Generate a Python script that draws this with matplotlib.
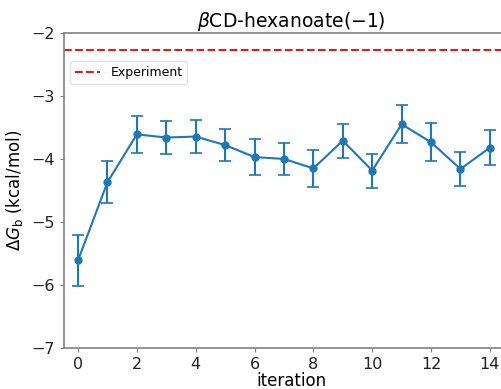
import matplotlib
matplotlib.use("Agg")
import matplotlib.pyplot as plt

iterations = list(range(15))
dg_mean = [-5.61, -4.37, -3.61, -3.66, -3.645, -3.78, -3.97, -4.00, -4.15,
           -3.71, -4.185, -3.45, -3.735, -4.16, -3.82]
dg_err = [0.40, 0.33, 0.29, 0.265, 0.265, 0.26, 0.29, 0.26, 0.29,
          0.27, 0.27, 0.30, 0.30, 0.265, 0.28]
dg_experiment = -2.27

fig = plt.figure(figsize=(5.02, 3.89), dpi=100)
ax = fig.add_axes([0.1275, 0.1054, 0.907, 0.810])

ax.errorbar(iterations, dg_mean, yerr=dg_err, fmt="o-", color="#1f77b4",
            ms=5, lw=1.5, capsize=4, elinewidth=1.5, capthick=1.2)
ax.axhline(dg_experiment, color="#e31a1c", ls="--", lw=1.5, label="Experiment")

ax.set_xlim(-0.476, 15.0)
ax.set_ylim(-7, -2)
ax.set_xticks(range(0, 15, 2))
ax.set_yticks([-7, -6, -5, -4, -3, -2])

for s in ax.spines.values():
    s.set_color("#808080")
    s.set_linewidth(1.2)
ax.tick_params(colors="#808080", labelcolor="#222222", labelsize=11.5, length=3)

ax.set_xlabel("iteration", fontsize=12, labelpad=0)
ax.set_ylabel(r"$\Delta G_\mathrm{b}$ (kcal/mol)", fontsize=12, labelpad=5)
ax.set_title("$\\beta$CD-hexanoate(\u22121)", fontsize=13.5, pad=4)

ax.legend(loc="upper left", bbox_to_anchor=(0.0, 0.93), fontsize=9,
          frameon=True, edgecolor="#dddddd", fancybox=True)

fig.savefig("out.png", dpi=100)
